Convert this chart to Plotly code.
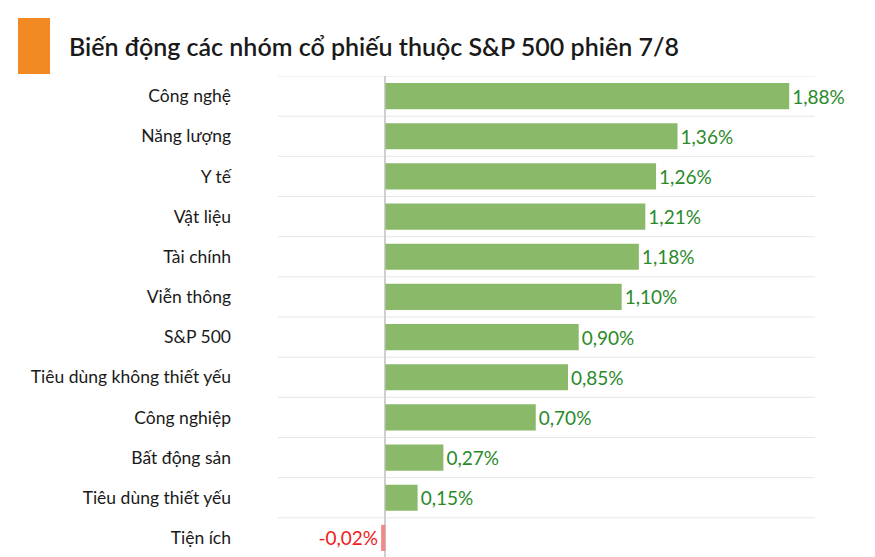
import plotly.graph_objects as go

categories = ["Công nghệ", "Năng lượng", "Y tế", "Vật liệu", "Tài chính", "Viễn thông",
              "S&P 500", "Tiêu dùng không thiết yếu", "Công nghiệp", "Bất động sản",
              "Tiêu dùng thiết yếu", "Tiện ích"]
values = [1.88, 1.36, 1.26, 1.21, 1.18, 1.10, 0.90, 0.85, 0.70, 0.27, 0.15, -0.02]
title = "Biến động các nhóm cổ phiếu thuộc S&P 500 phiên 7/8"

POS_BAR = "#8aba69"
NEG_BAR = "#f08a8a"
POS_TXT = "#2a8a2a"
NEG_TXT = "#f02020"

labels = [f"{v:.2f}%".replace(".", ",") for v in values]
bar_colors = [POS_BAR if v >= 0 else NEG_BAR for v in values]
txt_colors = [POS_TXT if v >= 0 else NEG_TXT for v in values]

# page body has an 8px margin; figure coordinates are screen coordinates minus 8
OFF = 8
W, H = 875, 557
L, T = 278 - OFF, 76 - OFF
R = W - (815 - OFF)
B = H - (558 - OFF)
pw, ph = W - L - R, H - T - B

def px_x(x):
    return (x - OFF - L) / pw

def px_y(y):
    return 1 + (T - (y - OFF)) / ph

fig = go.Figure(go.Bar(
    x=values, y=categories, orientation="h",
    marker=dict(color=bar_colors, line=dict(width=0)),
    text=labels, textposition="outside", cliponaxis=False,
    textfont=dict(color=txt_colors, size=19, family="Lato"),
    width=0.65,
))

shapes = []
for i in range(len(categories)):
    shapes.append(dict(type="line", xref="paper", yref="y", x0=0, x1=1,
                       y0=i - 0.5, y1=i - 0.5, line=dict(color="#e6e6e6", width=1),
                       layer="below"))
shapes.append(dict(type="rect", xref="paper", yref="paper",
                   x0=px_x(18), x1=px_x(50), y0=px_y(74), y1=px_y(18),
                   fillcolor="#f28a24", line=dict(width=0)))

fig.update_layout(
    width=W, height=H,
    margin=dict(l=L, r=R, t=T, b=B),
    paper_bgcolor="white", plot_bgcolor="white",
    showlegend=False,
    shapes=shapes,
    annotations=[dict(text=title, xref="paper", yref="paper",
                      x=px_x(67), y=px_y(46), xanchor="left", yanchor="middle",
                      showarrow=False,
                      font=dict(family="Lato", size=25, color="#1a1a1a", weight=600))],
    xaxis=dict(range=[-0.5, 2.0], showgrid=False, showticklabels=False,
               zeroline=True, zerolinecolor="#cfcfcf", zerolinewidth=2, fixedrange=True),
    yaxis=dict(autorange=False, range=[len(categories) - 0.5, -0.5], showgrid=False,
               ticks="", ticklabelstandoff=46,
               tickfont=dict(family="Lato", size=17.5, color="#1a1a1a")),
)

fig.write_html("out.html")
